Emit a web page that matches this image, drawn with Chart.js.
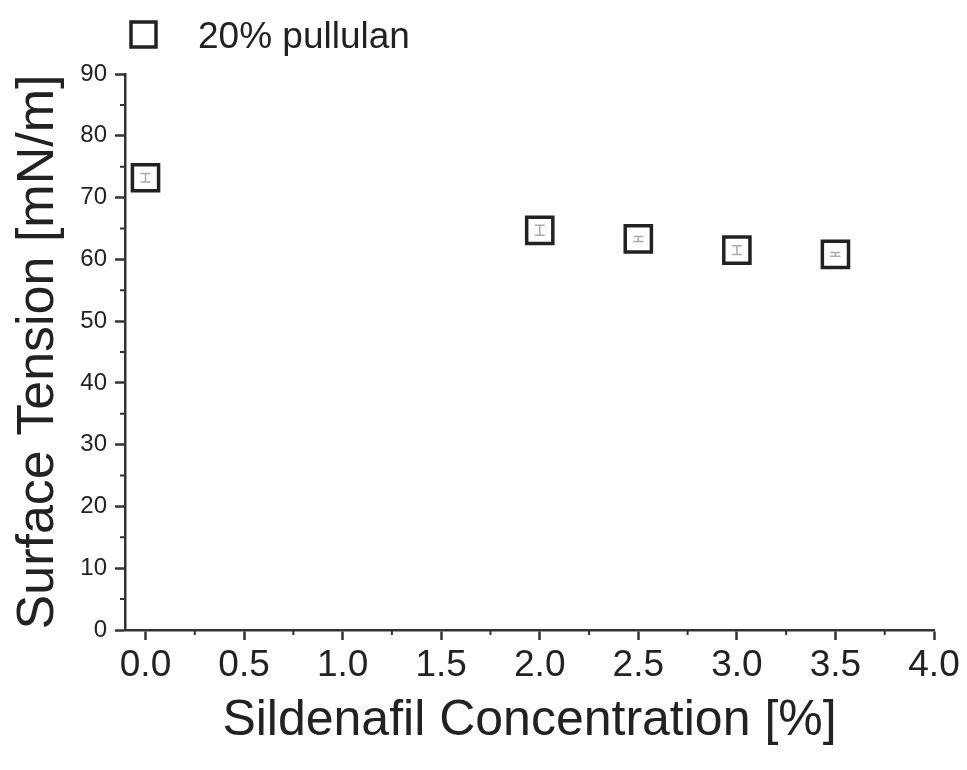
<!DOCTYPE html>
<html>
<head>
<meta charset="utf-8">
<script src="https://cdn.jsdelivr.net/npm/chart.js@4.4.1/dist/chart.umd.min.js"></script>
<style>
  html, body { margin: 0; padding: 0; background: #fff; }
  #wrap { width: 967px; height: 770px; position: relative; }
</style>
</head>
<body>
<div id="wrap"><canvas id="tension"></canvas></div>
<script>
// data
const seriesLabel = '20% pullulan';
const concentration = [0.0, 2.0, 2.5, 3.0, 3.5];
const surfaceTension = [73.2, 64.7, 63.3, 61.5, 60.8];
const tensionError = [0.7, 0.8, 0.4, 0.7, 0.3];

const xTicks = [0.0, 0.5, 1.0, 1.5, 2.0, 2.5, 3.0, 3.5, 4.0];
const xMinorTicks = [0.25, 0.75, 1.25, 1.75, 2.25, 2.75, 3.25, 3.75];
const yTicks = [0, 10, 20, 30, 40, 50, 60, 70, 80, 90];
const yMinorTicks = [5, 15, 25, 35, 45, 55, 65, 75, 85];

const ink = '#222';
const fontFamily = '"Liberation Sans", Arial, Helvetica, sans-serif';

// small error bars inside the squares
const errorBars = {
  id: 'errorBars',
  afterDatasetsDraw(chart) {
    const ctx = chart.ctx;
    const xs = chart.scales.x, ys = chart.scales.y;
    ctx.save();
    ctx.strokeStyle = '#aaa';
    ctx.lineWidth = 1.5;
    concentration.forEach((c, i) => {
      const px = xs.getPixelForValue(c);
      const top = ys.getPixelForValue(surfaceTension[i] + tensionError[i]);
      const bot = ys.getPixelForValue(surfaceTension[i] - tensionError[i]);
      ctx.beginPath();
      ctx.moveTo(px, top); ctx.lineTo(px, bot);
      ctx.moveTo(px - 5, top); ctx.lineTo(px + 5, top);
      ctx.moveTo(px - 5, bot); ctx.lineTo(px + 5, bot);
      ctx.stroke();
    });
    ctx.restore();
  }
};

// short minor ticks on both axes
const minorTicks = {
  id: 'minorTicks',
  afterDraw(chart) {
    const ctx = chart.ctx;
    const xs = chart.scales.x, ys = chart.scales.y;
    const area = chart.chartArea;
    ctx.save();
    ctx.strokeStyle = '#333';
    ctx.lineWidth = 2;
    ctx.beginPath();
    xMinorTicks.forEach(v => {
      const px = xs.getPixelForValue(v);
      ctx.moveTo(px, area.bottom); ctx.lineTo(px, area.bottom + 5);
    });
    yMinorTicks.forEach(v => {
      const py = ys.getPixelForValue(v);
      ctx.moveTo(area.left - 5, py); ctx.lineTo(area.left, py);
    });
    ctx.stroke();
    ctx.restore();
  }
};

// legend sitting top left, like the original figure
const cornerLegend = {
  id: 'cornerLegend',
  afterDraw(chart) {
    const ctx = chart.ctx;
    ctx.save();
    ctx.strokeStyle = ink;
    ctx.lineWidth = 3.5;
    ctx.strokeRect(131, 22, 25, 25);
    ctx.fillStyle = ink;
    ctx.font = '37px ' + fontFamily;
    ctx.textBaseline = 'alphabetic';
    ctx.fillText(chart.data.datasets[0].label, 198, 48);
    ctx.restore();
  }
};

const ctx = document.getElementById('tension');
const chart = new Chart(ctx, {
  type: 'scatter',
  data: {
    datasets: [{
      label: seriesLabel,
      data: concentration.map((c, i) => ({ x: c, y: surfaceTension[i] })),
      pointStyle: 'rect',
      pointRadius: 18.5,
      pointHoverRadius: 18.5,
      pointBorderWidth: 3.5,
      borderColor: ink,
      backgroundColor: 'rgba(0,0,0,0)'
    }]
  },
  options: {
    responsive: true,
    maintainAspectRatio: false,
    animation: false,
    layout: { padding: { top: 74, right: 33, left: 0, bottom: 0 } },
    plugins: {
      legend: { display: false },
      tooltip: { enabled: false }
    },
    scales: {
      x: {
        type: 'linear',
        min: -0.104,
        max: 4.0,
        afterBuildTicks: (scale) => { scale.ticks = xTicks.map(v => ({ value: v })); },
        afterFit: (scale) => { scale.height = 140; },
        border: { color: '#333', width: 2.5 },
        grid: { drawOnChartArea: false, tickLength: 10, tickColor: '#333', tickWidth: 2.5 },
        ticks: {
          color: ink,
          padding: 4,
          font: { family: fontFamily, size: 37 },
          callback: (v) => Number(v).toFixed(1)
        },
        title: {
          display: true,
          text: 'Sildenafil Concentration [%]',
          color: ink,
          font: { family: fontFamily, size: 50 },
          padding: { top: 0, bottom: 19 }
        }
      },
      y: {
        min: 0,
        max: 90,
        afterBuildTicks: (scale) => { scale.ticks = yTicks.map(v => ({ value: v })); },
        afterFit: (scale) => { scale.width = 125; },
        border: { color: '#333', width: 2.5 },
        grid: { drawOnChartArea: false, tickLength: 10, tickColor: '#333', tickWidth: 2.5 },
        ticks: {
          color: ink,
          padding: 8,
          font: { family: fontFamily, size: 24 }
        },
        title: {
          display: true,
          text: 'Surface Tension [mN/m]',
          color: ink,
          font: { family: fontFamily, size: 52 },
          padding: { top: 7, bottom: 0 }
        }
      }
    }
  },
  plugins: [errorBars, minorTicks, cornerLegend]
});
</script>
</body>
</html>
